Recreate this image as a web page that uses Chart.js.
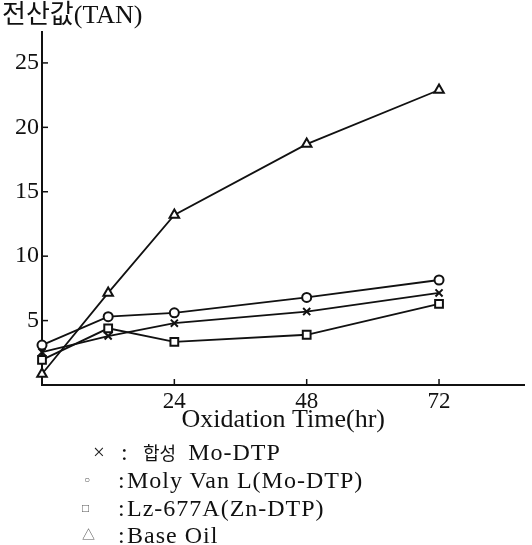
<!DOCTYPE html>
<html>
<head>
<meta charset="utf-8">
<script src="https://cdn.jsdelivr.net/npm/chart.js@4.4.0/dist/chart.umd.min.js"></script>
<style>
  html, body { margin: 0; padding: 0; background: #fff; }
  #wrap { position: relative; width: 532px; height: 545px; }
  #legend { position: absolute; left: 0; top: 0; width: 532px; height: 545px; pointer-events: none;
    font-family: 'Liberation Serif', 'Noto Sans CJK KR', serif; font-size: 24px; color: #111; }
  .row { position: absolute; left: 0; height: 28px; line-height: 28px; white-space: nowrap; }
  .mark { position: absolute; top: 0; color: #555; }
  .colon { position: absolute; left: 118px; top: 0; }
  .txt { position: absolute; left: 127px; top: 0; letter-spacing: 1px; }
  .ko { font-family: 'Noto Sans CJK KR', sans-serif; font-size: 18px; letter-spacing: 0; margin-right: 12px; }
</style>
</head>
<body>
<div id="wrap">
  <canvas id="tanChart" width="532" height="545"></canvas>
  <div id="legend"></div>
</div>
<script>
const hours = [0, 12, 24, 48, 72];
const synMoDtp = [2.55, 3.8, 4.8, 5.7, 7.15];   // x
const molyVanL = [3.1, 5.3, 5.6, 6.8, 8.15];    // o
const lz677A = [1.95, 4.4, 3.35, 3.9, 6.3];     // square
const baseOil = [0.85, 7.15, 13.2, 18.7, 22.9]; // triangle

const yTickValues = [5, 10, 15, 20, 25];
const xTickValues = [24, 48, 72];

const seriesPrefix = ['합성', '', '', ''];
const seriesLabels = ['Mo-DTP', 'Moly Van L(Mo-DTP)', 'Lz-677A(Zn-DTP)', 'Base Oil'];
const seriesMarks = ['×', '○', '□', '△'];

const ink = '#111';
Chart.defaults.font.family = "'Liberation Serif', 'Noto Sans CJK KR', serif";
Chart.defaults.color = ink;

function toPoints(values) {
  return values.map((v, i) => ({ x: hours[i], y: v }));
}

function makeSet(label, values, style, radius) {
  return {
    label: label,
    data: toPoints(values),
    borderColor: ink,
    borderWidth: 1.8,
    pointStyle: style,
    pointRadius: radius,
    pointBorderWidth: 2,
    pointBorderColor: ink,
    pointBackgroundColor: '#fff',
    tension: 0,
    clip: false
  };
}

// small tick marks that point into the plot, like the original figure
const innerTicks = {
  id: 'innerTicks',
  afterDraw(chart) {
    const { ctx, chartArea, scales } = chart;
    ctx.save();
    ctx.strokeStyle = ink;
    ctx.lineWidth = 1.5;
    yTickValues.forEach(v => {
      const py = scales.y.getPixelForValue(v);
      ctx.beginPath();
      ctx.moveTo(chartArea.left, py);
      ctx.lineTo(chartArea.left + 6, py);
      ctx.stroke();
    });
    xTickValues.forEach(v => {
      const px = scales.x.getPixelForValue(v);
      ctx.beginPath();
      ctx.moveTo(px, chartArea.bottom);
      ctx.lineTo(px, chartArea.bottom - 6);
      ctx.stroke();
    });
    ctx.restore();
  }
};

new Chart(document.getElementById('tanChart'), {
  type: 'line',
  data: {
    datasets: [
      makeSet(seriesLabels[0], synMoDtp, 'crossRot', 5),
      makeSet(seriesLabels[1], molyVanL, 'circle', 4.5),
      makeSet(seriesLabels[2], lz677A, 'rect', 5.5),
      makeSet(seriesLabels[3], baseOil, 'triangle', 5.5)
    ]
  },
  options: {
    responsive: false,
    animation: false,
    layout: { padding: { left: 2, right: 2, top: 0, bottom: 109 } },
    plugins: {
      legend: { display: false }, // HTML legend below the axis
      tooltip: { enabled: false },
      title: {
        display: true,
        text: '전산값(TAN)',
        align: 'start',
        color: ink,
        font: { size: 26, weight: 'normal', lineHeight: 1.0 },
        padding: { top: 3, bottom: 3 }
      }
    },
    scales: {
      x: {
        type: 'linear',
        min: 0,
        max: 87.5,
        afterBuildTicks: scale => { scale.ticks = xTickValues.map(v => ({ value: v })); },
        afterFit: scale => { scale.height = 51; },
        grid: { display: false, drawTicks: false },
        border: { display: true, color: ink, width: 2 },
        ticks: { padding: 3, font: { size: 23 }, color: ink, maxRotation: 0 },
        title: {
          display: true,
          text: 'Oxidation Time(hr)',
          color: ink,
          font: { size: 26 },
          padding: { top: 0, bottom: 0 }
        }
      },
      y: {
        type: 'linear',
        min: 0,
        max: 27.4,
        afterBuildTicks: scale => { scale.ticks = yTickValues.map(v => ({ value: v })); },
        afterFit: scale => { scale.width = 40; },
        grid: { display: false, drawTicks: false },
        border: { display: true, color: ink, width: 2 },
        ticks: { padding: 3, font: { size: 24 }, color: ink }
      }
    }
  },
  plugins: [innerTicks]
});

// legend rows under the axis title
const legendEl = document.getElementById('legend');
const rowTops = [438, 466, 494, 521];
const markStyle = [
  'left:93px;font-size:21px;color:#222',
  'left:84px;font-size:10px',
  'left:82px;font-size:12px',
  'left:82px;font-size:13px'
];
seriesLabels.forEach((label, i) => {
  const row = document.createElement('div');
  row.className = 'row';
  row.style.top = rowTops[i] + 'px';
  row.style.width = '532px';
  const left = i === 0 ? 143 : 127;
  const prefix = seriesPrefix[i] ? '<span class="ko">' + seriesPrefix[i] + '</span>' : '';
  row.innerHTML =
    '<span class="mark" style="' + markStyle[i] + '">' + seriesMarks[i] + '</span>' +
    '<span class="colon"' + (i === 0 ? ' style="left:121px"' : '') + '>:</span>' +
    '<span class="txt" style="left:' + left + 'px">' + prefix + label + '</span>';
  legendEl.appendChild(row);
});
</script>
</body>
</html>
